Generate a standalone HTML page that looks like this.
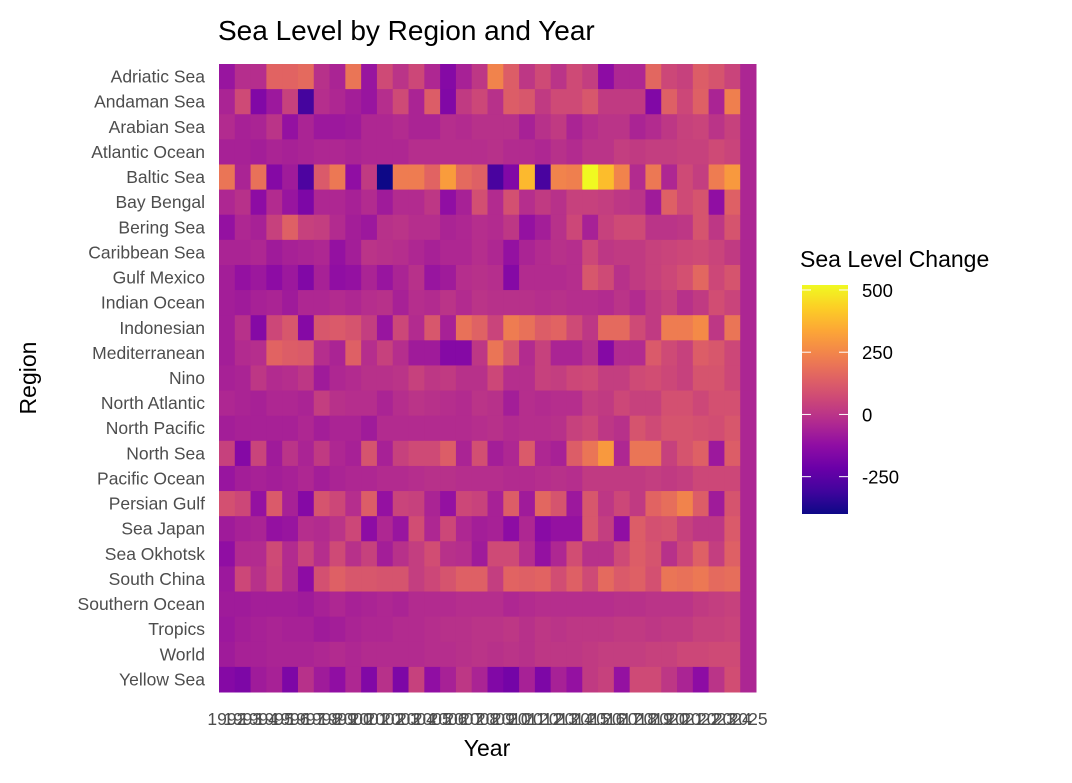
<!DOCTYPE html>
<html><head><meta charset="utf-8"><style>
body{margin:0;background:#fff;}
svg text{font-family:"Liberation Sans",sans-serif;}
</style></head><body>
<svg id="chart" width="1072" height="778" xmlns="http://www.w3.org/2000/svg">
<text x="218" y="40" font-size="28" fill="#000">Sea Level by Region and Year</text>
<g id="cells"></g>
<g id="ylabels"></g>
<g id="xlabels"></g>
<text x="487" y="756" font-size="23" text-anchor="middle">Year</text>
<text transform="translate(36,378) rotate(-90)" font-size="23" text-anchor="middle">Region</text>
<g id="legend">
<text x="800" y="267" font-size="23">Sea Level Change</text>
<defs><linearGradient id="grad" x1="0" y1="1" x2="0" y2="0"></linearGradient></defs>
<rect x="802" y="285" width="46" height="229" fill="url(#grad)"/>
<g id="legticks"></g>
</g>
</svg>
<script>
const regions=["Adriatic Sea","Andaman Sea","Arabian Sea","Atlantic Ocean","Baltic Sea","Bay Bengal","Bering Sea","Caribbean Sea","Gulf Mexico","Indian Ocean","Indonesian","Mediterranean","Nino","North Atlantic","North Pacific","North Sea","Pacific Ocean","Persian Gulf","Sea Japan","Sea Okhotsk","South China","Southern Ocean","Tropics","World","Yellow Sea"];
const years=[];for(let y=1992;y<=2025;y++)years.push(y);
const legendTicks=[500,250,0,-250];
// values 1992..2025 per region
const vAdriatic=[-100,-20,-20,150,150,170,-10,-50,200,-100,70,0,60,-40,-150,-60,10,240,130,10,70,0,70,30,-130,-40,-40,160,60,40,130,100,50,-45];
const vAndaman=[-50,70,-160,-90,40,-300,-20,-40,-70,-100,-20,70,-50,130,-160,20,60,-10,130,110,20,70,70,110,20,20,20,-160,140,60,140,-50,230,-45];
const vArabian=[-30,-60,-50,0,-110,-50,-90,-90,-80,-40,-40,-30,-50,-50,-20,-30,-10,-10,-10,-60,-10,20,-50,-20,0,0,-50,-30,10,40,50,0,40,-45];
const vAtlantic=[-60,-60,-70,-50,-60,-50,-40,-40,-50,-40,-40,-40,-20,-20,-20,-20,-20,-10,-30,-30,-40,-10,-30,0,0,30,20,30,30,40,40,70,50,-45];
const vBaltic=[200,-50,190,-150,-80,-280,120,210,-120,20,-400,220,220,150,310,170,140,-290,-160,380,-290,240,230,520,390,240,-30,210,-40,70,30,220,300,-45];
const vBengal=[-40,-10,-130,-30,-100,-170,-40,-40,-60,-30,-80,-30,-30,10,-120,-60,85,-30,90,-20,20,-10,40,40,30,10,0,-80,140,70,100,-120,140,-45];
const vBering=[-110,-40,-60,40,140,40,30,-30,-70,-90,-10,0,-20,-20,-50,-40,-20,-30,10,-110,-70,-10,60,-60,40,70,70,0,0,10,100,10,100,-45];
const vCarib=[-50,-50,-40,-80,-60,-50,-40,-110,-70,0,-10,-20,-40,-60,-40,-40,-20,-40,-110,-50,-30,-10,-20,60,10,20,20,40,50,60,70,50,20,-45];
const vGulf=[-70,-110,-90,-130,-90,-160,-60,-120,-110,-50,-100,-50,-10,-100,-80,-20,-10,-20,-150,-30,-30,-30,-20,110,70,-10,20,40,60,90,160,60,100,-45];
const vIndian=[-70,-80,-60,-50,-80,-40,-40,-30,-40,-20,-10,-60,-20,-30,0,-30,0,-10,-10,-10,-20,-10,-20,-20,-30,0,-30,20,40,-10,20,80,50,-45];
const vIndo=[-70,-10,-150,60,110,-150,110,120,100,30,-100,60,-30,110,-60,190,145,50,220,190,130,150,70,10,170,170,70,20,220,220,260,10,200,-45];
const vMed=[-70,-30,-20,150,130,120,-20,-50,140,-20,40,-20,-80,-80,-150,-150,10,200,110,-30,40,-50,-50,-10,-150,-30,-30,120,70,40,130,110,60,-45];
const vNino=[-60,-50,10,-30,-20,10,-80,-40,-30,-10,-10,0,40,10,20,-10,-10,60,-20,-20,40,30,60,70,30,30,70,80,60,40,100,100,60,-45];
const vNAtl=[-40,-50,-60,-40,-40,-50,30,-10,-20,-20,-50,-20,0,-10,-20,-30,0,-10,-70,-20,-30,-20,-20,30,20,60,40,40,90,90,60,90,90,-45];
const vNPac=[-70,-60,-60,-60,-60,-40,-70,-50,-50,-80,-30,-30,-30,-30,-30,-30,-20,-10,-30,-20,-20,-10,40,60,10,-10,100,70,100,100,90,80,110,-45];
const vNSea=[40,-150,50,-80,0,-50,20,-40,-60,100,-60,40,70,70,130,-50,85,-70,-40,120,-40,-60,130,200,300,-40,200,200,40,100,140,-90,130,-45];
const vPac=[-100,-70,-60,-70,-60,-40,-70,-50,-40,-40,-30,-30,-20,-10,-10,-20,-20,-20,-30,-30,-20,-10,-20,20,20,20,20,30,20,30,60,60,60,-45];
const vPersian=[90,60,-110,120,-60,-150,100,60,-20,130,-110,50,40,-50,-110,60,45,-60,130,-80,160,100,-90,110,10,60,20,150,180,240,130,-80,100,-45];
const vJapan=[-80,-60,-50,-110,-100,-20,-30,0,60,-130,-40,-100,80,-40,60,-40,-70,-60,-130,-40,-140,-110,-110,110,30,-120,130,90,100,40,10,10,120,-45];
const vOkhotsk=[-120,-30,-30,70,-30,50,-20,70,-10,40,-70,-10,30,80,-10,-20,-80,70,70,-20,-110,-40,80,-10,-10,70,130,100,-10,60,140,30,140,-45];
const vSChina=[-90,60,-10,60,-30,-130,90,140,110,110,100,100,30,60,100,140,140,30,150,140,150,80,140,70,170,120,140,90,200,190,210,170,180,-45];
const vSouthern=[-80,-80,-70,-70,-70,-80,-60,-40,-60,-50,-40,-50,-30,-30,-30,-20,-20,-20,-40,-30,-20,-20,-20,-20,-20,-10,-10,0,0,0,20,30,40,-45];
const vTropics=[-90,-70,-60,-50,-60,-60,-80,-70,-50,-40,-40,-30,-30,-20,-10,-10,0,0,10,-10,10,0,10,10,10,20,20,10,20,20,40,40,50,-45];
const vWorld=[-80,-60,-60,-50,-50,-50,-40,-30,-40,-30,-30,-30,-30,-20,-20,-10,0,-10,0,-10,10,10,10,20,30,30,30,40,40,60,60,70,70,-45];
const vYellow=[-150,-170,-80,-60,-170,-10,-80,-120,-40,-160,-10,-170,40,-120,-60,10,-50,-160,-190,-60,-170,-60,-110,20,40,-110,70,70,10,-50,-130,0,80,-45];
const values=[vAdriatic,vAndaman,vArabian,vAtlantic,vBaltic,vBengal,vBering,vCarib,vGulf,vIndian,vIndo,vMed,vNino,vNAtl,vNPac,vNSea,vPac,vPersian,vJapan,vOkhotsk,vSChina,vSouthern,vTropics,vWorld,vYellow];

const NS="http://www.w3.org/2000/svg";
const stops=["#0d0887","#41049d","#6a00a8","#8f0da4","#b12a90","#cc4778","#e16462","#f2844b","#fca636","#fcce25","#f0f921"];
function hex(c){return [1,3,5].map(i=>parseInt(c.substr(i,2),16));}
function plasma(t){t=Math.max(0,Math.min(1,t));const s=t*10,i=Math.min(9,Math.floor(s)),f=s-i;const a=hex(stops[i]),b=hex(stops[i+1]);return "rgb("+a.map((v,k)=>Math.round(v+(b[k]-v)*f)).join(",")+")";}
let vmin=Infinity,vmax=-Infinity;values.forEach(r=>r.forEach(v=>{vmin=Math.min(vmin,v);vmax=Math.max(vmax,v);}));
const color=v=>plasma((v-vmin)/(vmax-vmin));
const x0=219,x1=756,y0=64,y1=692;
const cw=(x1-x0)/years.length,rh=(y1-y0)/regions.length;
const xPos=i=>x0+i*cw,yPos=j=>y0+j*rh;
const cells=document.getElementById('cells');
values.forEach((row,j)=>row.forEach((v,i)=>{
 const r=document.createElementNS(NS,'rect');
 
 
 r.setAttribute('x',xPos(i));r.setAttribute('y',yPos(j));
 r.setAttribute('width',cw+0.5);r.setAttribute('height',rh+0.5);
 r.setAttribute('fill',color(v));cells.appendChild(r);
}));
const yl=document.getElementById('ylabels');
regions.forEach((n,j)=>{const t=document.createElementNS(NS,'text');
 
 
 t.setAttribute('x',205);t.setAttribute('y',yPos(j)+rh/2+6);t.setAttribute('text-anchor','end');
 t.setAttribute('font-size','17.5');t.setAttribute('fill','#4d4d4d');t.textContent=n;yl.appendChild(t);});
const xl=document.getElementById('xlabels');
years.forEach((y,i)=>{const t=document.createElementNS(NS,'text');
 
 
 t.setAttribute('x',xPos(i)+cw/2);t.setAttribute('y',725);t.setAttribute('text-anchor','middle');
 t.setAttribute('font-size','17.5');t.setAttribute('fill','#4d4d4d');t.textContent=y;xl.appendChild(t);});
const grad=document.getElementById('grad');
for(let k=0;k<=20;k++){const s=document.createElementNS(NS,'stop');s.setAttribute('offset',k/20);s.setAttribute('stop-color',plasma(k/20));grad.appendChild(s);}
const lt=document.getElementById('legticks');
const ly=v=>514-(v-vmin)/(vmax-vmin)*229;
legendTicks.forEach(v=>{const y=ly(v);
 [[802,811],[839,848]].forEach(p=>{const l=document.createElementNS(NS,'line');
 
 
 l.setAttribute('x1',p[0]);l.setAttribute('x2',p[1]);l.setAttribute('y1',y);l.setAttribute('y2',y);l.setAttribute('stroke','#fff');l.setAttribute('stroke-width','1');lt.appendChild(l);});
 const t=document.createElementNS(NS,'text');
 
 
 t.setAttribute('x',862);t.setAttribute('y',y+7);t.setAttribute('font-size','18.5');t.textContent=v;lt.appendChild(t);});
</script>
</body></html>
